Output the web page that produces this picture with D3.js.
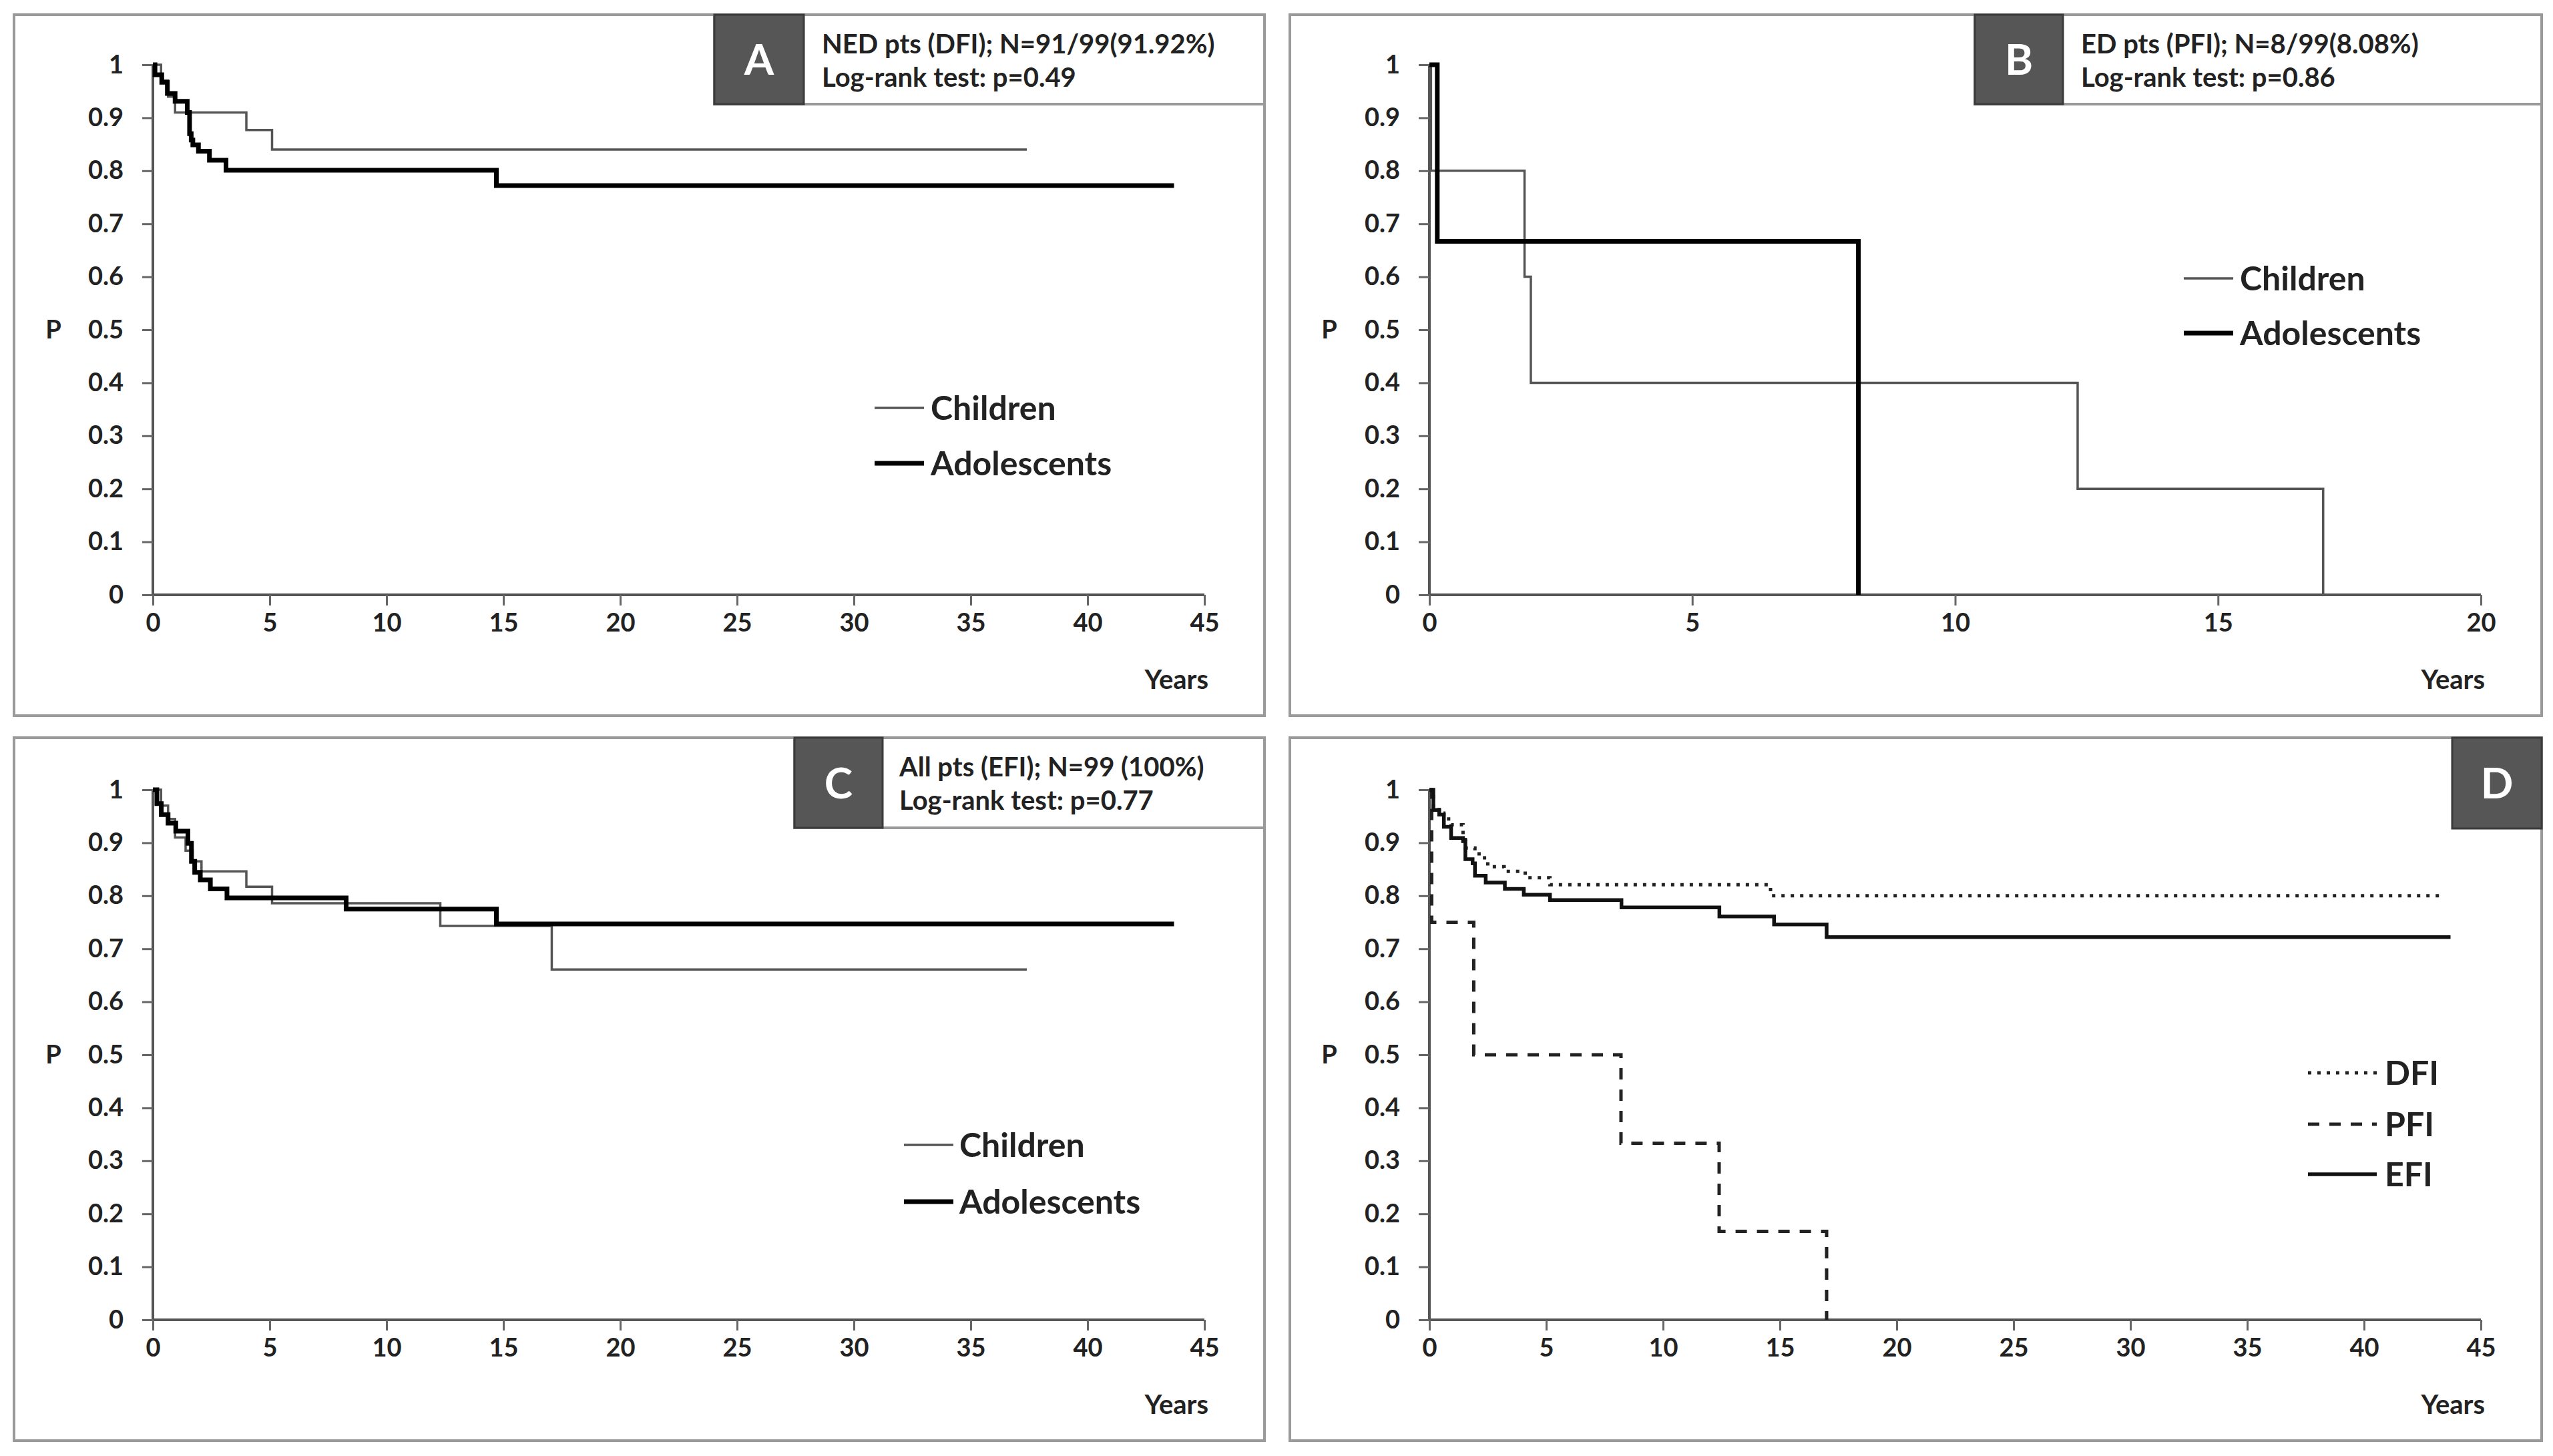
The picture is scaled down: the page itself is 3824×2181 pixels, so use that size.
<!DOCTYPE html>
<html>
<head>
<meta charset="utf-8" />
<style>
  body { margin: 0; background: #fff; }
  svg { display: block; font-family: Lato, "Open Sans", sans-serif; font-weight: 700; }
</style>
<title>Kaplan-Meier curves: children vs adolescents</title>
</head>
<body>
<script src="https://cdn.jsdelivr.net/npm/d3@7"></script>
<script>
// ---- data: [years, probability] pairs ----
const yTickValues = [0, 0.1, 0.2, 0.3, 0.4, 0.5, 0.6, 0.7, 0.8, 0.9, 1];
const yTickLabels = ["0", "0.1", "0.2", "0.3", "0.4", "0.5", "0.6", "0.7", "0.8", "0.9", "1"];
const xTicks45 = [0, 5, 10, 15, 20, 25, 30, 35, 40, 45];
const xTicks20 = [0, 5, 10, 15, 20];

// A - NED pts (DFI)
const dfiChildren = [[0, 1], [0.35, 0.97], [0.65, 0.94], [0.95, 0.91], [4.0, 0.877], [5.1, 0.84], [37.4, 0.84]];
const dfiAdolescents = [[0, 1], [0.09, 0.981], [0.38, 0.967], [0.62, 0.946], [0.95, 0.931], [1.47, 0.91],
  [1.57, 0.87], [1.64, 0.858], [1.71, 0.849], [1.95, 0.837], [2.42, 0.82], [3.13, 0.801], [14.7, 0.772], [43.7, 0.772]];

// B - ED pts (PFI)
const pfiChildren = [[0, 1], [0.03, 0.8], [1.81, 0.6], [1.93, 0.4], [12.33, 0.2], [17.0, 0]];
const pfiAdolescents = [[0, 1], [0.15, 0.667], [8.16, 0]];

// C - All pts (EFI)
const efiChildren = [[0, 1], [0.35, 0.97], [0.65, 0.945], [0.95, 0.91], [1.4, 0.885], [1.7, 0.865], [2.08, 0.846],
  [4.0, 0.817], [5.1, 0.786], [12.3, 0.743], [17.07, 0.661], [37.4, 0.661]];
const efiAdolescents = [[0, 1], [0.17, 0.974], [0.36, 0.953], [0.65, 0.937], [0.98, 0.922], [1.5, 0.899],
  [1.65, 0.865], [1.79, 0.844], [2.03, 0.83], [2.46, 0.813], [3.17, 0.796], [8.27, 0.775], [14.7, 0.747], [43.7, 0.747]];

// D - all intervals
const dfiAll = [[0, 1], [0.17, 0.967], [0.42, 0.956], [0.62, 0.945], [0.93, 0.934], [1.44, 0.912], [1.54, 0.89],
  [1.95, 0.879], [2.36, 0.866], [2.5, 0.855], [3.2, 0.846], [4.1, 0.834], [5.16, 0.821], [14.6, 0.8], [43.4, 0.8]];
const pfiAll = [[0, 1], [0.1, 0.75], [1.9, 0.5], [8.2, 0.333], [12.4, 0.167], [17.0, 0]];
const efiAll = [[0, 1], [0.17, 0.962], [0.42, 0.953], [0.62, 0.93], [0.93, 0.909], [1.44, 0.903], [1.54, 0.869],
  [1.85, 0.861], [1.95, 0.838], [2.41, 0.825], [3.23, 0.813], [4.04, 0.802], [5.16, 0.792], [8.22, 0.778],
  [12.41, 0.761], [14.75, 0.746], [17.0, 0.722], [43.7, 0.722]];

// ---- drawing ----
const W = 3824, H = 2181;
const svg = d3.select("body").append("svg").attr("width", W).attr("height", H);
svg.append("rect").attr("width", W).attr("height", H).attr("fill", "#fff");

const thin = { stroke: "#555", width: 3.5, dash: null };
const thick = { stroke: "#000", width: 7, dash: null };
const dotted = { stroke: "#222", width: 5, dash: "5,9" };
const dashed = { stroke: "#222", width: 5, dash: "17,15" };
const solid = { stroke: "#111", width: 5.5, dash: null };

const panels = [
  {
    frame: [21, 22, 1894, 1072], plot: [229, 97, 1804, 891], xDomain: [0, 45], xTicks: xTicks45,
    series: [{ data: dfiChildren, ...thin }, { data: dfiAdolescents, ...thick }],
    legend: { x1: 1310, x2: 1384, tx: 1394, ys: [611, 694], items: [["Children", thin], ["Adolescents", thick]] },
    tag: { letter: "A", box: [1070, 22, 1204, 156], lines: ["NED pts (DFI); N=91/99(91.92%)", "Log-rank test: p=0.49"], tx: 1231 }
  },
  {
    frame: [1932, 22, 3807, 1072], plot: [2141, 97, 3716, 891], xDomain: [0, 20], xTicks: xTicks20,
    series: [{ data: pfiChildren, ...thin }, { data: pfiAdolescents, ...thick }],
    legend: { x1: 3271, x2: 3345, tx: 3355, ys: [417, 499], items: [["Children", thin], ["Adolescents", thick]] },
    tag: { letter: "B", box: [2958, 22, 3090, 156], lines: ["ED pts (PFI); N=8/99(8.08%)", "Log-rank test: p=0.86"], tx: 3117 }
  },
  {
    frame: [21, 1105, 1894, 2158], plot: [229, 1183, 1804, 1977], xDomain: [0, 45], xTicks: xTicks45,
    series: [{ data: efiChildren, ...thin }, { data: efiAdolescents, ...thick }],
    legend: { x1: 1354, x2: 1428, tx: 1437, ys: [1715, 1800], items: [["Children", thin], ["Adolescents", thick]] },
    tag: { letter: "C", box: [1190, 1105, 1322, 1240], lines: ["All pts (EFI); N=99 (100%)", "Log-rank test: p=0.77"], tx: 1347 }
  },
  {
    frame: [1932, 1105, 3807, 2158], plot: [2141, 1183, 3716, 1977], xDomain: [0, 45], xTicks: xTicks45,
    series: [{ data: dfiAll, ...dotted }, { data: pfiAll, ...dashed }, { data: efiAll, ...solid }],
    legend: { x1: 3457, x2: 3560, tx: 3572, ys: [1607, 1684, 1759], items: [["DFI", dotted], ["PFI", dashed], ["EFI", solid]] },
    tag: { letter: "D", box: [3673, 1105, 3807, 1241], lines: [], tx: 0 }
  }
];

panels.forEach(p => {
  const g = svg.append("g");
  const [fx1, fy1, fx2, fy2] = p.frame;
  const [px1, py1, px2, py2] = p.plot;

  // frame
  g.append("rect")
    .attr("x", fx1).attr("y", fy1).attr("width", fx2 - fx1).attr("height", fy2 - fy1)
    .attr("fill", "#fff").attr("stroke", "#9a9a9a").attr("stroke-width", 4);

  const x = d3.scaleLinear().domain(p.xDomain).range([px1, px2]);
  const y = d3.scaleLinear().domain([0, 1]).range([py2, py1]);

  // axes
  const xAxis = g.append("g").attr("transform", `translate(0,${py2})`)
    .call(d3.axisBottom(x).tickValues(p.xTicks).tickSize(16).tickPadding(12).tickFormat(d3.format("d")));
  const yAxis = g.append("g").attr("transform", `translate(${px1},0)`)
    .call(d3.axisLeft(y).tickValues(yTickValues).tickSize(16).tickPadding(28)
      .tickFormat((d, i) => yTickLabels[i]));
  [xAxis, yAxis].forEach(a => {
    a.select(".domain").attr("stroke", "#555").attr("stroke-width", 4);
    a.selectAll(".tick line").attr("stroke", "#666").attr("stroke-width", 3);
    a.selectAll(".tick text").attr("fill", "#222").style("font-size", "38px")
      .style("font-family", "Lato, sans-serif").style("font-weight", 700);
  });
  // plain axis lines, no outer tick ends
  xAxis.select(".domain").attr("d", `M${px1},0H${px2}`);
  yAxis.select(".domain").attr("d", `M0,${py2}V${py1}`);

  g.append("text").attr("x", px2 + 6).attr("y", py2 + 141).attr("text-anchor", "end")
    .attr("fill", "#222").style("font-size", "40px").text("Years");
  g.append("text").attr("x", fx1 + 59).attr("y", (py1 + py2) / 2).attr("dy", "0.35em")
    .attr("text-anchor", "middle").attr("fill", "#222").style("font-size", "38px").text("P");

  // curves
  const line = d3.line().x(d => x(d[0])).y(d => y(d[1])).curve(d3.curveStepAfter);
  p.series.forEach(s => {
    g.append("path").datum(s.data).attr("d", line)
      .attr("fill", "none").attr("stroke", s.stroke).attr("stroke-width", s.width)
      .attr("stroke-dasharray", s.dash).attr("stroke-linejoin", "miter");
  });

  // legend
  p.legend.items.forEach(([name, st], i) => {
    const ly = p.legend.ys[i];
    g.append("line").attr("x1", p.legend.x1).attr("x2", p.legend.x2).attr("y1", ly).attr("y2", ly)
      .attr("stroke", st.stroke).attr("stroke-width", st.width).attr("stroke-dasharray", st.dash);
    g.append("text").attr("x", p.legend.tx).attr("y", ly).attr("dy", "0.36em")
      .attr("fill", "#222").style("font-size", "50px").text(name);
  });

  // tag box
  const t = p.tag;
  const [bx1, by1, bx2, by2] = t.box;
  if (t.lines.length) {
    g.append("rect").attr("x", bx1).attr("y", by1).attr("width", fx2 - bx1).attr("height", by2 - by1)
      .attr("fill", "#fff").attr("stroke", "#9a9a9a").attr("stroke-width", 4);
    t.lines.forEach((l, i) => {
      g.append("text").attr("x", t.tx).attr("y", by1 + 58 + i * 50)
        .attr("fill", "#222").style("font-size", "40px").text(l);
    });
  }
  g.append("rect").attr("x", bx1).attr("y", by1).attr("width", bx2 - bx1).attr("height", by2 - by1)
    .attr("fill", "#565656").attr("stroke", "#3a3a3a").attr("stroke-width", 3);
  g.append("text").attr("x", (bx1 + bx2) / 2).attr("y", (by1 + by2) / 2).attr("dy", "0.36em")
    .attr("text-anchor", "middle").attr("fill", "#fff").style("font-size", "64px").text(t.letter);
});
</script>
</body>
</html>
